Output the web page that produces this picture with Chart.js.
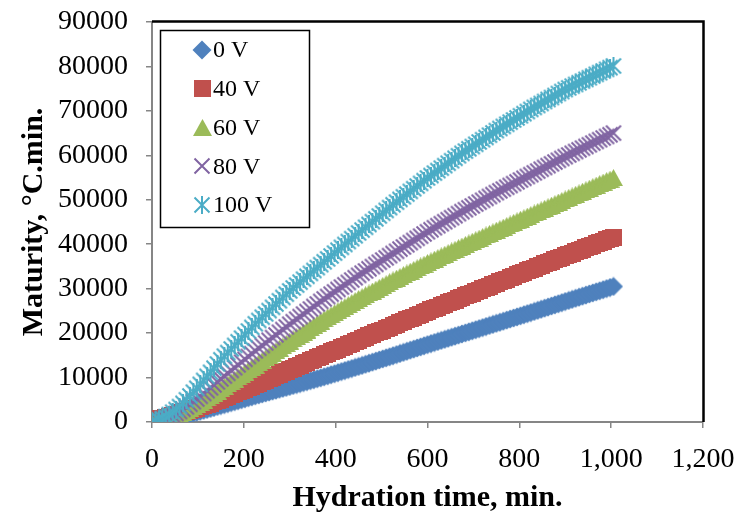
<!DOCTYPE html>
<html><head><meta charset="utf-8">
<script src="https://cdn.jsdelivr.net/npm/chart.js@4/dist/chart.umd.min.js"></script>
<style>html,body{margin:0;padding:0;background:#fff;}canvas{display:block;}</style>
</head><body>
<canvas id="c" width="740" height="519"></canvas>
<script>
const times = [0,7.5,15,22.5,30,37.5,45,52.5,60,67.5,75,82.5,90,97.5,105,112.5,120,127.5,135,142.5,150,157.5,165,172.5,180,187.5,195,202.5,210,217.5,225,232.5,240,247.5,255,262.5,270,277.5,285,292.5,300,307.5,315,322.5,330,337.5,345,352.5,360,367.5,375,382.5,390,397.5,405,412.5,420,427.5,435,442.5,450,457.5,465,472.5,480,487.5,495,502.5,510,517.5,525,532.5,540,547.5,555,562.5,570,577.5,585,592.5,600,607.5,615,622.5,630,637.5,645,652.5,660,667.5,675,682.5,690,697.5,705,712.5,720,727.5,735,742.5,750,757.5,765,772.5,780,787.5,795,802.5,810,817.5,825,832.5,840,847.5,855,862.5,870,877.5,885,892.5,900,907.5,915,922.5,930,937.5,945,952.5,960,967.5,975,982.5,990,997.5,1005];

const v0V = [0,110,230,360,500,650,810,980,1160,1350,1550,
1770,1980,2200,2410,2630,2840,3060,3270,3490,3700,
3920,4140,4360,4580,4800,5020,5240,5460,5680,5900,
6110,6320,6530,6740,6950,7160,7370,7580,7790,8000,
8220,8430,8650,8870,9090,9300,9520,9740,9950,10170,
10400,10640,10870,11100,11340,11570,11800,12030,12270,12500,
12740,12980,13230,13470,13710,13950,14190,14440,14680,14920,
15170,15420,15660,15910,16160,16410,16660,16900,17150,17400,
17640,17880,18120,18360,18600,18840,19080,19320,19560,19800,
20040,20280,20520,20760,21000,21240,21480,21720,21960,22200,
22440,22680,22930,23170,23410,23650,23890,24140,24380,24620,
24870,25120,25360,25610,25860,26110,26360,26600,26850,27100,
27340,27590,27830,28070,28320,28560,28800,29040,29290,29530,
29770,30020,30260,30500];

const v40V = [500,620,750,900,1060,1230,1420,1620,1830,2060,2300,
2580,2860,3140,3420,3700,3980,4260,4540,4820,5100,
5430,5760,6100,6430,6760,7090,7420,7760,8090,8420,
8760,9100,9430,9770,10110,10450,10790,11120,11460,11800,
12130,12460,12790,13120,13450,13780,14110,14440,14770,15100,
15430,15760,16090,16420,16750,17080,17410,17740,18070,18400,
18730,19060,19380,19710,20040,20370,20700,21020,21350,21680,
22000,22320,22650,22970,23290,23610,23930,24260,24580,24900,
25220,25530,25850,26160,26480,26790,27110,27420,27740,28050,
28370,28680,29000,29310,29630,29940,30260,30570,30890,31200,
31510,31830,32140,32450,32770,33080,33390,33700,34020,34330,
34640,34940,35250,35560,35870,36170,36480,36790,37090,37400,
37700,38000,38300,38600,38900,39200,39500,39800,40100,40400,
40700,41000,41300,41600];

const v60V = [0,100,240,410,610,860,1130,1450,1800,2180,2600,
3040,3490,3950,4430,4910,5410,5910,6430,6960,7500,
8030,8560,9090,9620,10150,10680,11210,11740,12270,12800,
13340,13880,14420,14960,15500,16040,16580,17120,17660,18200,
18700,19200,19700,20200,20700,21200,21700,22200,22700,23200,
23660,24120,24580,25040,25500,25960,26420,26880,27340,27800,
28220,28640,29050,29470,29890,30310,30730,31140,31560,31980,
32370,32760,33160,33550,33940,34330,34720,35120,35510,35900,
36270,36640,37010,37380,37750,38120,38490,38860,39230,39600,
39960,40310,40670,41020,41380,41730,42090,42440,42800,43150,
43500,43860,44210,44560,44920,45270,45620,45970,46330,46680,
47030,47380,47740,48090,48440,48790,49140,49500,49850,50200,
50550,50890,51240,51580,51930,52270,52620,52960,53310,53650,
53990,54330,54660,55000];

const v80V = [0,140,320,550,830,1140,1510,1910,2360,2860,3400,
3980,4570,5170,5790,6410,7050,7690,8350,9020,9700,
10330,10960,11590,12220,12850,13480,14110,14740,15370,16000,
16600,17200,17800,18400,19000,19600,20200,20800,21400,22000,
22570,23140,23710,24280,24850,25420,25990,26560,27130,27700,
28230,28760,29290,29820,30350,30880,31410,31940,32470,33000,
33490,33980,34480,34970,35460,35950,36440,36940,37430,37920,
38410,38900,39380,39870,40360,40850,41340,41820,42310,42800,
43250,43710,44160,44610,45070,45520,45970,46420,46880,47330,
47760,48180,48610,49040,49470,49890,50320,50750,51170,51600,
52010,52410,52820,53220,53630,54030,54440,54840,55250,55650,
56060,56460,56870,57270,57680,58080,58490,58890,59300,59700,
60080,60460,60850,61230,61610,61990,62370,62760,63140,63520,
63890,64260,64630,65000];

const v100V = [0,200,470,800,1200,1670,2200,2800,3470,4200,5000,
5850,6710,7580,8470,9360,10270,11180,12110,13050,14000,
14810,15620,16430,17240,18050,18860,19670,20480,21290,22100,
22840,23580,24320,25060,25800,26540,27280,28020,28760,29500,
30160,30810,31470,32120,32780,33430,34090,34740,35400,36050,
36700,37350,38000,38650,39300,39950,40600,41250,41900,42550,
43180,43810,44450,45080,45710,46340,46970,47610,48240,48870,
49470,50080,50680,51280,51890,52490,53090,53690,54300,54900,
55460,56010,56570,57120,57680,58230,58790,59340,59900,60450,
60960,61470,61980,62490,63010,63520,64030,64540,65050,65560,
66040,66510,66990,67470,67950,68420,68900,69380,69850,70330,
70780,71220,71670,72120,72570,73010,73460,73910,74350,74800,
75180,75560,75940,76320,76700,77080,77460,77840,78220,78600,
78980,79350,79730,80100];

const seriesNames = ['0 V','40 V','60 V','80 V','100 V'];
const seriesValues = [v0V, v40V, v60V, v80V, v100V];
const seriesColors = ['#4F81BD','#C0504D','#9BBB59','#8064A2','#4BACC6'];
const markerTypes = ['diamond','square','triangle','x','star'];
const xTickLabels = ['0','200','400','600','800','1,000','1,200'];
const yTickLabels = ['0','10000','20000','30000','40000','50000','60000','70000','80000','90000'];
const xTitle = 'Hydration time, min.';
const yTitle = 'Maturity, \u00B0C.min.';

function makeMarker(type, color) {
  const c = document.createElement('canvas');
  let w = 18, h = 18;
  if (type === 'diamond') { w = 20; h = 20; }
  if (type === 'square') { w = 17; h = 17; }
  if (type === 'triangle') { w = 19; h = 17; }
  c.width = w; c.height = h;
  const g = c.getContext('2d');
  g.fillStyle = color; g.strokeStyle = color; g.lineWidth = 2;
  if (type === 'diamond') {
    g.beginPath(); g.moveTo(w/2, 0.5); g.lineTo(w-0.5, h/2); g.lineTo(w/2, h-0.5); g.lineTo(0.5, h/2); g.closePath(); g.fill();
  } else if (type === 'square') {
    g.fillRect(0, 0, w, h);
  } else if (type === 'triangle') {
    g.beginPath(); g.moveTo(w/2, 0); g.lineTo(w, h); g.lineTo(0, h); g.closePath(); g.fill();
  } else {
    g.beginPath();
    g.moveTo(1.5, 1.5); g.lineTo(w-1.5, h-1.5);
    g.moveTo(w-1.5, 1.5); g.lineTo(1.5, h-1.5);
    if (type === 'star') { g.moveTo(w/2, 0); g.lineTo(w/2, h); }
    g.stroke();
  }
  return c;
}

const markers = markerTypes.map((t, i) => makeMarker(t, seriesColors[i]));

const datasets = seriesValues.map((vals, i) => ({
  label: seriesNames[i],
  data: times.map((t, k) => ({ x: t, y: vals[k] })),
  showLine: false,
  pointStyle: markers[i],
  pointRadius: 9,
  pointHoverRadius: 9,
  backgroundColor: seriesColors[i],
  borderColor: seriesColors[i],
  order: seriesNames.length - i
}));

const serif = '"Liberation Serif", "Times New Roman", serif';

const framePlugin = {
  id: 'frame',
  afterDraw(chart) {
    const { ctx, chartArea: a } = chart;
    ctx.save();
    ctx.strokeStyle = '#000';
    ctx.lineWidth = 2.5;
    ctx.beginPath();
    ctx.moveTo(a.left, a.top - 0.5);
    ctx.lineTo(a.right + 0.5, a.top - 0.5);
    ctx.lineTo(a.right + 0.5, a.bottom);
    ctx.stroke();
    // legend box
    ctx.fillStyle = '#fff';
    ctx.fillRect(160, 30, 149, 197);
    ctx.strokeStyle = '#000';
    ctx.lineWidth = 1.5;
    ctx.strokeRect(160.5, 30.5, 149, 197);
    ctx.font = '24px ' + serif;
    ctx.fillStyle = '#000';
    ctx.textBaseline = 'middle';
    ctx.textAlign = 'left';
    chart.data.datasets.forEach((ds, i) => {
      const y = 50 + i * 38.75;
      const m = ds.pointStyle;
      ctx.drawImage(m, Math.round(202 - m.width / 2), Math.round(y - m.height / 2));
      ctx.fillText(ds.label, 213, y + 1);
    });
    ctx.restore();
  }
};

new Chart(document.getElementById('c'), {
  type: 'scatter',
  data: { datasets },
  options: {
    responsive: false,
    animation: false,
    events: [],
    layout: { padding: { left: 0, right: 37, top: 22, bottom: 0 } },
    plugins: { legend: { display: false }, tooltip: { enabled: false } },
    scales: {
      x: {
        type: 'linear', min: 0, max: 1200, position: 'bottom',
        ticks: {
          stepSize: 200, autoSkip: false, maxRotation: 0,
          callback: (v, i) => xTickLabels[i],
          font: { family: serif, size: 28 }, color: '#000', padding: 15
        },
        grid: { drawOnChartArea: false, drawTicks: true, tickLength: 6, color: '#868686', lineWidth: 1.5 },
        border: { color: '#868686', width: 2 },
        title: { display: true, text: xTitle, color: '#000',
          font: { family: serif, size: 30, weight: 'bold' }, padding: { top: 0, bottom: 3 } },
        afterFit: s => { s.height = 97; s.paddingLeft = 0; s.paddingRight = 0; }
      },
      y: {
        type: 'linear', min: 0, max: 90000, position: 'left',
        ticks: {
          stepSize: 10000, autoSkip: false,
          callback: (v, i) => yTickLabels[i],
          font: { family: serif, size: 28 }, color: '#000', padding: 18
        },
        grid: { drawOnChartArea: false, drawTicks: true, tickLength: 6, color: '#868686', lineWidth: 1.5 },
        border: { color: '#868686', width: 2 },
        title: { display: true, text: yTitle, color: '#000',
          font: { family: serif, size: 30, weight: 'bold' }, padding: { top: 16, bottom: 0 } },
        afterFit: s => { s.width = 152; s.paddingTop = 0; s.paddingBottom = 0; }
      }
    }
  },
  plugins: [framePlugin]
});
</script>
</body></html>
